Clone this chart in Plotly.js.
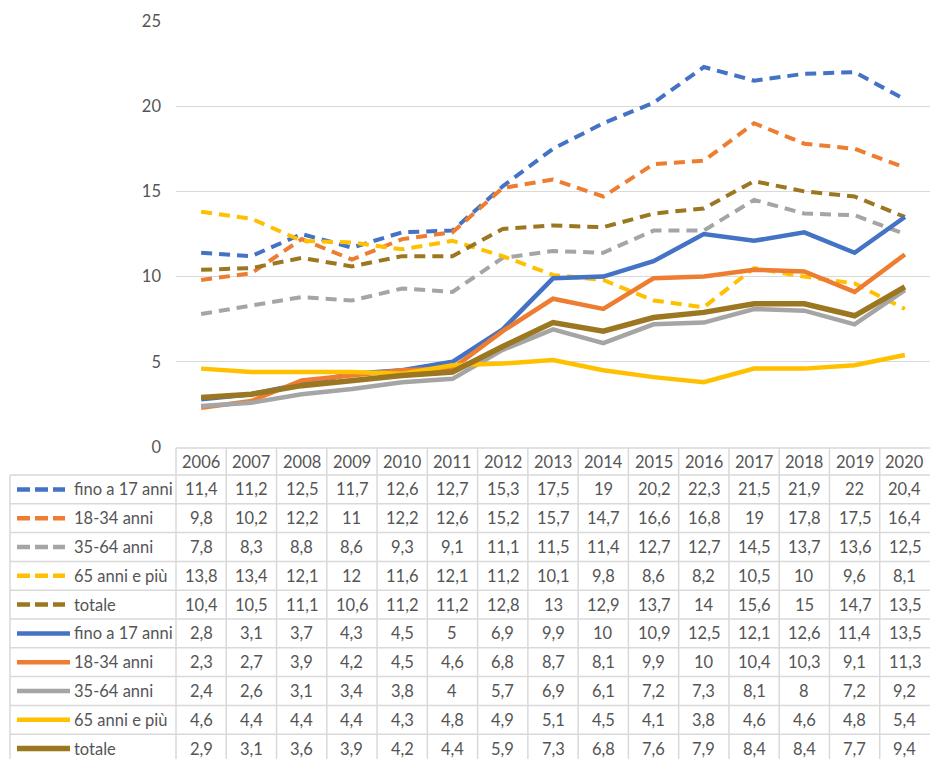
<!DOCTYPE html>
<html><head><meta charset="utf-8">
<script src="https://cdn.plot.ly/plotly-3.0.1.min.js"></script>
<style>html,body{margin:0;padding:0;background:#fff}#chart{width:930px;height:759px}</style>
</head><body><div id="chart"></div>
<script>
const years = [2006,2007,2008,2009,2010,2011,2012,2013,2014,2015,2016,2017,2018,2019,2020];
const seriesLabels = ['fino a 17 anni','18-34 anni','35-64 anni','65 anni e più','totale'];

// dashed series (first group)
const dFino   = [11.4,11.2,12.5,11.7,12.6,12.7,15.3,17.5,19,20.2,22.3,21.5,21.9,22,20.4];
const d1834   = [9.8,10.2,12.2,11,12.2,12.6,15.2,15.7,14.7,16.6,16.8,19,17.8,17.5,16.4];
const d3564   = [7.8,8.3,8.8,8.6,9.3,9.1,11.1,11.5,11.4,12.7,12.7,14.5,13.7,13.6,12.5];
const d65     = [13.8,13.4,12.1,12,11.6,12.1,11.2,10.1,9.8,8.6,8.2,10.5,10,9.6,8.1];
const dTot    = [10.4,10.5,11.1,10.6,11.2,11.2,12.8,13,12.9,13.7,14,15.6,15,14.7,13.5];

// solid series (second group)
const sFino   = [2.8,3.1,3.7,4.3,4.5,5,6.9,9.9,10,10.9,12.5,12.1,12.6,11.4,13.5];
const s1834   = [2.3,2.7,3.9,4.2,4.5,4.6,6.8,8.7,8.1,9.9,10,10.4,10.3,9.1,11.3];
const s3564   = [2.4,2.6,3.1,3.4,3.8,4,5.7,6.9,6.1,7.2,7.3,8.1,8,7.2,9.2];
const s65     = [4.6,4.4,4.4,4.4,4.3,4.8,4.9,5.1,4.5,4.1,3.8,4.6,4.6,4.8,5.4];
const sTot    = [2.9,3.1,3.6,3.9,4.2,4.4,5.9,7.3,6.8,7.6,7.9,8.4,8.4,7.7,9.4];

const colors = ['#4472C4','#ED7D31','#A5A5A5','#FFC000','#9C7721'];
const dashedData = [dFino,d1834,d3564,d65,dTot];
const solidData = [sFino,s1834,s3564,s65,sTot];

const FONT = 'Lato, "Open Sans", sans-serif';
const TXT = '#555555';
const BORDER = '#D9D9D9';
const FS = 16.5;

// pixel helpers (plot area: left 176, width 754, zero at 447, height 426)
const L = 176, PW = 754, Y0 = 447, PH = 426;
const X = px => (px - L) / PW;
const Y = py => (Y0 - py) / PH;

const traces = [];
dashedData.forEach((d,i) => traces.push({
  x: years, y: d, type:'scatter', mode:'lines', name: seriesLabels[i],
  line:{color:colors[i], width:4, dash:'11px,7px'}, hoverinfo:'skip'
}));
solidData.forEach((d,i) => traces.push({
  x: years, y: d, type:'scatter', mode:'lines', name: seriesLabels[i],
  line:{color:colors[i], width: i===4 ? 5.5 : 4.5}, hoverinfo:'skip'
}));

const shapes = [];
const annotations = [];
const headerTop = 448, headerBot = 475, rowH = 28.8, nRows = 10;
const tableBot = headerBot + rowH*nRows;

// horizontal lines
shapes.push({type:'line', xref:'paper', yref:'paper', x0:0, x1:1, y0:Y(headerTop), y1:Y(headerTop), line:{color:BORDER, width:1.5}});
for (let k=0;k<=nRows;k++){
  const yy = Y(headerBot + k*rowH);
  shapes.push({type:'line', xref:'paper', yref:'paper', x0:X(10), x1:1, y0:yy, y1:yy, line:{color:BORDER, width:1.5}});
}
// vertical lines
shapes.push({type:'line', xref:'paper', yref:'paper', x0:X(10), x1:X(10), y0:Y(headerBot), y1:Y(tableBot), line:{color:BORDER, width:1.5}});
for (let k=0;k<years.length;k++){
  const xx = k/years.length;
  shapes.push({type:'line', xref:'paper', yref:'paper', x0:xx, x1:xx, y0:Y(headerTop), y1:Y(tableBot), line:{color:BORDER, width:1.5}});
}

// header years
years.forEach(yr => annotations.push({
  xref:'x', yref:'paper', x:yr, y:Y((headerTop+headerBot)/2), text:String(yr), showarrow:false,
  xanchor:'center', yanchor:'middle', font:{family:FONT, size:FS, color:TXT}
}));

const rows = [];
dashedData.forEach((d,i)=>rows.push({data:d, label:seriesLabels[i], color:colors[i], dashed:true}));
solidData.forEach((d,i)=>rows.push({data:d, label:seriesLabels[i], color:colors[i], dashed:false}));

rows.forEach((r,k) => {
  const cy = headerBot + rowH*k + rowH/2;
  // legend key
  shapes.push({type:'line', xref:'paper', yref:'paper', x0:X(17), x1:X(r.dashed?65:70), y0:Y(cy), y1:Y(cy),
    line:{color:r.color, width: r.dashed?4.5:(k===9?5.5:4.5), dash: r.dashed?'13px,5px':'solid'}});
  annotations.push({xref:'paper', yref:'paper', x:X(72), y:Y(cy), text:r.label, showarrow:false,
    xanchor:'left', yanchor:'middle', font:{family:FONT, size:FS, color:TXT}});
  r.data.forEach((v,j) => annotations.push({
    xref:'x', yref:'paper', x:years[j], y:Y(cy), text:String(v).replace('.',','), showarrow:false,
    xanchor:'center', yanchor:'middle', font:{family:FONT, size:FS, color:TXT}
  }));
});

const layout = {
  width:930, height:759,
  margin:{l:L, r:930-L-PW, t:21, b:759-Y0},
  paper_bgcolor:'#fff', plot_bgcolor:'#fff',
  showlegend:false,
  xaxis:{type:'linear', range:[2005.5,2020.5], showticklabels:false, showgrid:false, zeroline:false, showline:false, ticks:''},
  yaxis:{range:[0,25], tick0:0, dtick:5, gridcolor:BORDER, gridwidth:1.3, zeroline:false, showline:false, ticks:'',
    tickfont:{family:FONT, size:FS, color:TXT}, ticklabelstandoff:14},
  shapes: shapes,
  annotations: annotations
};

Plotly.newPlot('chart', traces, layout, {displayModeBar:false, staticPlot:true});
</script>
</body></html>
